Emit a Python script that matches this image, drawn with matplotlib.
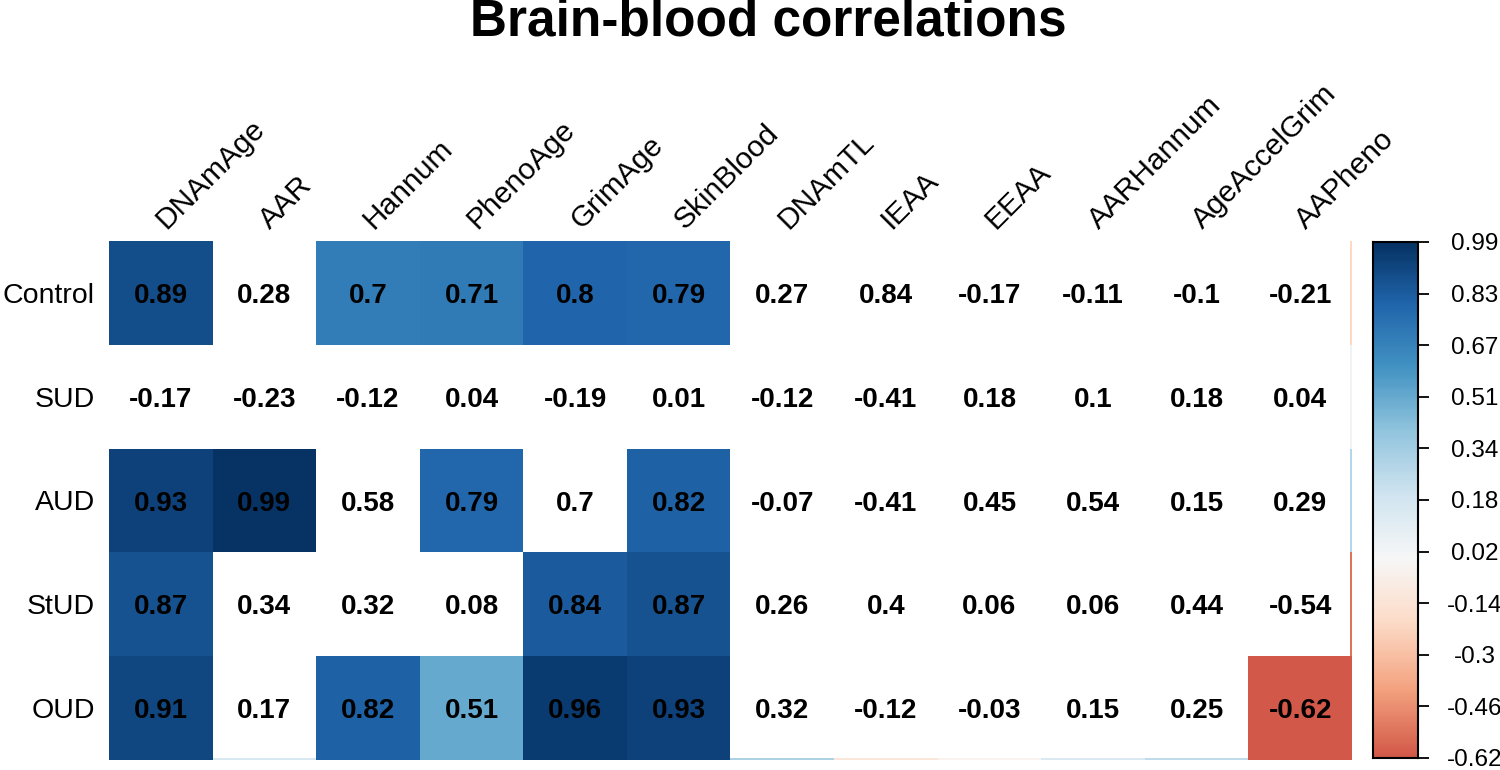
import numpy as np
import matplotlib
matplotlib.use("Agg")
import matplotlib.pyplot as plt
from matplotlib.colors import Normalize
from matplotlib.patches import Rectangle

plt.rcParams['font.family'] = ['Liberation Sans', 'DejaVu Sans']

# data
groups = ['Control', 'SUD', 'AUD', 'StUD', 'OUD']
clocks = ['DNAmAge', 'AAR', 'Hannum', 'PhenoAge', 'GrimAge', 'SkinBlood',
          'DNAmTL', 'IEAA', 'EEAA', 'AARHannum', 'AgeAccelGrim', 'AAPheno']
corr = np.array([
    [0.89, 0.28, 0.70, 0.71, 0.80, 0.79, 0.27, 0.84, -0.17, -0.11, -0.10, -0.21],
    [-0.17, -0.23, -0.12, 0.04, -0.19, 0.01, -0.12, -0.41, 0.18, 0.10, 0.18, 0.04],
    [0.93, 0.99, 0.58, 0.79, 0.70, 0.82, -0.07, -0.41, 0.45, 0.54, 0.15, 0.29],
    [0.87, 0.34, 0.32, 0.08, 0.84, 0.87, 0.26, 0.40, 0.06, 0.06, 0.44, -0.54],
    [0.91, 0.17, 0.82, 0.51, 0.96, 0.93, 0.32, -0.12, -0.03, 0.15, 0.25, -0.62],
])
# 1 = significant (coloured), 0 = left blank
signif = np.array([
    [1, 0, 1, 1, 1, 1, 0, 0, 0, 0, 0, 0],
    [0, 0, 0, 0, 0, 0, 0, 0, 0, 0, 0, 0],
    [1, 1, 0, 1, 0, 1, 0, 0, 0, 0, 0, 0],
    [1, 0, 0, 0, 1, 1, 0, 0, 0, 0, 0, 0],
    [1, 0, 1, 1, 1, 1, 0, 0, 0, 0, 0, 1],
])
cbar_lim = (-0.62, 0.99)
cbar_labels = ['-0.62', '-0.46', '-0.3', '-0.14', '0.02', '0.18',
               '0.34', '0.51', '0.67', '0.83', '0.99']

W, H = 1500, 770
fig = plt.figure(figsize=(W / 100, H / 100), dpi=100)
cmap = plt.get_cmap('RdBu')
norm = Normalize(-1, 1)

# main grid: pixels x 109..1352, y 241..760
ax = fig.add_axes([109 / W, (H - 760) / H, (1352 - 109) / W, (760 - 241) / H])
nr, nc = corr.shape
ax.set_xlim(-0.5, nc - 0.5)
ax.set_ylim(nr - 0.5, -0.5)
ax.axis('off')

d = 0.02
for i in range(nr):
    for j in range(nc):
        ax.add_patch(Rectangle((j - 0.5, i - 0.5), 1, 1, facecolor=cmap(norm(corr[i, j])),
                               edgecolor='none', zorder=1))
        if not signif[i, j]:
            # blank cells leave a thin sliver of colour only on the outer edges
            w = 1 - d if j == nc - 1 else 1
            h = 1 - d if i == nr - 1 else 1
            ax.add_patch(Rectangle((j - 0.5, i - 0.5), w, h, facecolor='white',
                                   edgecolor='none', zorder=2))
        ax.text(j, i + 0.03, '%g' % corr[i, j], ha='center', va='center', fontsize=20,
                fontweight='bold', color='black', zorder=3)

# row labels
for i, g in enumerate(groups):
    ax.annotate(g, xy=(-0.5, i), xycoords='data', xytext=(-14, -3), textcoords='offset pixels',
                ha='right', va='center', fontsize=20.5)
# column labels
for j, c in enumerate(clocks):
    ax.annotate(c, xy=(j, -0.5), xycoords='data', xytext=(10, 7), textcoords='offset pixels',
                ha='left', va='bottom', rotation=45, rotation_mode='anchor', fontsize=21.5)

# colour legend
cax = fig.add_axes([1373 / W, (H - 758) / H, 45 / W, (758 - 242) / H])
grad = np.linspace(cbar_lim[0], cbar_lim[1], 256).reshape(-1, 1)
cax.imshow(grad, cmap=cmap, norm=norm, aspect='auto', origin='lower',
           extent=[0, 1, cbar_lim[0], cbar_lim[1]])
cax.set_xticks([])
cax.yaxis.tick_right()
cax.set_yticks(np.linspace(cbar_lim[0], cbar_lim[1], len(cbar_labels)))
cax.set_yticklabels(cbar_labels)
cax.tick_params(axis='y', length=8, width=1.3, pad=33, labelsize=17.5)
plt.setp(cax.get_yticklabels(), ha='center')
for s in cax.spines.values():
    s.set_linewidth(1.5)

fig.text(768 / W, 1 - 22 / H, 'Brain-blood correlations', ha='center', va='center',
         fontsize=37, fontweight='bold')

fig.savefig('out.png', dpi=100, facecolor='white')
